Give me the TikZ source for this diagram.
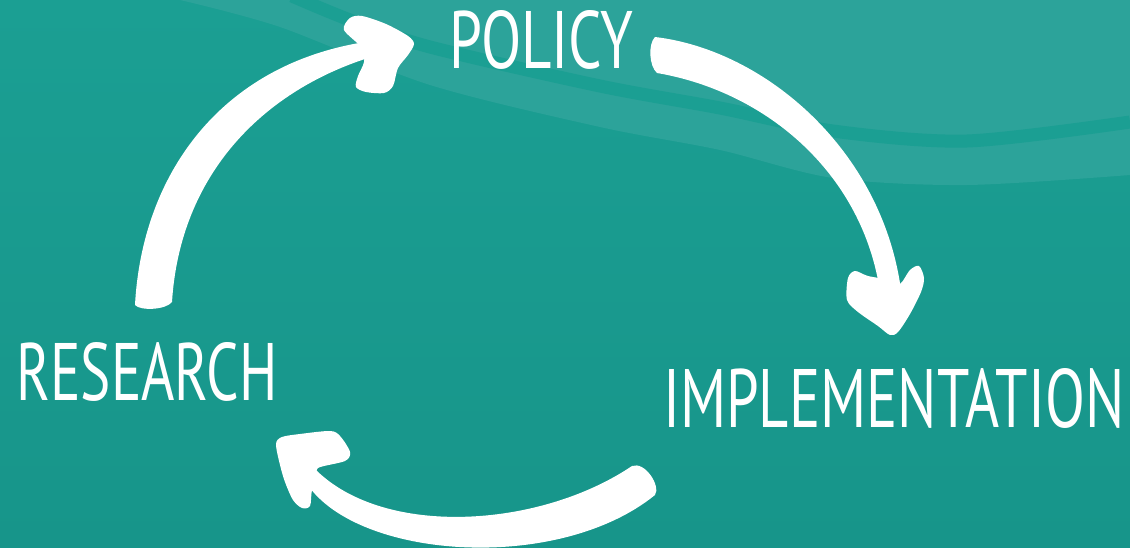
\documentclass[tikz,border=0pt]{standalone}
\usepackage{fontspec}
\setmainfont{PT Sans}
\definecolor{bgtop}{HTML}{1B9F93}
\definecolor{bgbot}{HTML}{17958A}
\definecolor{bglight}{HTML}{2CA39A}
\definecolor{bgstripe}{HTML}{1B9F93}
\tikzset{
  lbl/.style={text=white, inner sep=0pt, anchor=north west},
  brush/.style={fill=white, draw=none},
}
\begin{document}
\begin{tikzpicture}[x=1pt,y=-1pt]
\useasboundingbox (0,0) rectangle (1130,548);
% background
\shade[top color=bgtop, bottom color=bgbot] (0,0) rectangle (1130,548);
\fill[bglight] plot[smooth] coordinates {(180,0) (280,27) (430,85) (600,127) (720,150) (833,178) (967,185) (1130,175)} -- (1130,0) -- cycle;
\draw[bgstripe, line width=13pt] plot[smooth] coordinates {(292,-4) (350,20) (430,47) (600,86) (720,108) (833,131) (967,141) (1130,122)};

% labels
\node[lbl] (policy) at (449,10) {\resizebox{184pt}{58pt}{POLICY}};
\node[lbl] (research) at (16,342) {\resizebox{261pt}{58pt}{RESEARCH}};
\node[lbl] (impl) at (663,368) {\resizebox{461pt}{59pt}{IMPLEMENTATION}};

% arrow 1: research -> policy
\fill[brush] (135,305) .. controls (142,175) and (220,65) .. (365,42)
  -- (368,58) .. controls (262,92) and (180,175) .. (172,302)
  .. controls (166,310) and (140,311) .. (135,305) -- cycle;
\fill[brush] plot[smooth cycle, tension=0.5] coordinates {(344,30) (350,18) (362,16) (386,24) (408,36) (414,44) (408,55) (398,68) (393,86) (384,93) (366,92) (356,87) (358,76) (364,62) (362,48)};

% arrow 2: policy -> implementation
\fill[brush] (655,37) .. controls (765,50) and (882,150) .. (901,290)
  -- (880,292) .. controls (863,175) and (768,92) .. (657,73)
  .. controls (649,66) and (648,44) .. (655,37) -- cycle;
\fill[brush] plot[smooth cycle, tension=0.5] coordinates {(890,280) (868,276) (855,271) (848,278) (847,300) (858,312) (878,326) (890,335) (898,332) (910,314) (921,292) (924,278) (919,266) (910,270) (900,284)};

% arrow 3: implementation -> research
\fill[brush] (632,466) .. controls (540,528) and (385,538) .. (316,470)
  -- (310,488) .. controls (365,560) and (560,572) .. (655,495)
  .. controls (661,486) and (645,461) .. (632,466) -- cycle;
\fill[brush] plot[smooth cycle, tension=0.5] coordinates {(318,468) (345,461) (350,452) (340,436) (330,431) (300,434) (282,437) (276,444) (280,465) (285,482) (293,500) (302,508) (310,506) (312,490) (318,478)};
\end{tikzpicture}
\end{document}
